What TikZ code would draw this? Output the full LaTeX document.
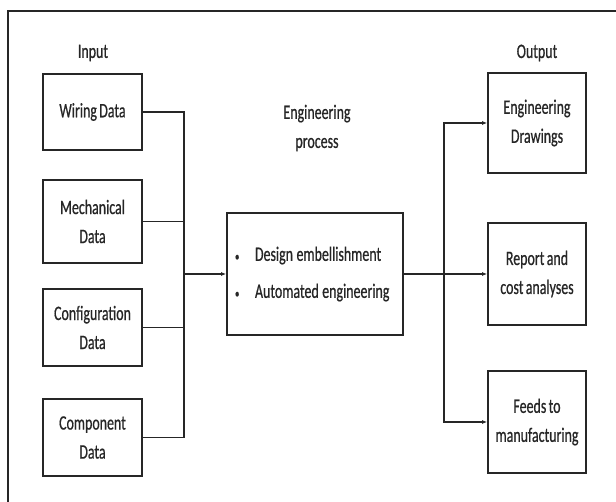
\documentclass[tikz,border=0pt]{standalone}
\usepackage{fontspec}
\setmainfont{Carlito}[FakeStretch=0.68, FakeBold=0.6, WordSpace=0.75]
\usepackage{tikz}
\usetikzlibrary{arrows.meta}
\tikzset{
	box/.style={draw=black!85, line width=1.7pt, fill=white, align=center, inner sep=2pt},
	conn/.style={draw=black!85, line width=1.5pt},
	arr/.style={conn, -{Latex[length=5pt,width=4pt]}}
}
\newcommand{\procitem}{\makebox[20pt][l]{\fontsize{13}{13}\selectfont\textbullet}}

\begin{document}
\begin{tikzpicture}[x=1pt, y=-1pt, font=\fontsize{20.5}{29}\selectfont, text=black!85]
	\useasboundingbox (0,0) rectangle (616,502);
	\draw[black!85, line width=2.2pt] (8,502) -- (8,11) -- (616,11);
	% input side
	\node (input) at (93,53) {Input};
	\node[box, minimum width=99pt, minimum height=76pt] (wiring) at (92.5,112) {Wiring Data};
	\node[box, minimum width=99pt, minimum height=83pt] (mech) at (92.5,221.5) {Mechanical\\Data};
	\node[box, minimum width=99pt, minimum height=77pt] (config) at (92.5,327.5) {Configuration\\Data};
	\node[box, minimum width=99pt, minimum height=77pt] (comp) at (92.5,437.5) {Component\\Data};
	% process
	\node[align=center] (proclabel) at (317,128) {Engineering\\process};
	\node[box, minimum width=176pt, minimum height=122pt, text width=160pt, align=left, inner sep=8pt] (proc) at (315,274)
	{\spaceskip=3.5pt plus 1pt minus 1pt\procitem Design embellishment\\[8pt]\procitem Automated engineering};
	% output side
	\node (output) at (537,53) {Output};
	\node[box, minimum width=98pt, minimum height=100pt] (drawings) at (537,123) {Engineering\\Drawings};
	\node[box, minimum width=98pt, minimum height=102pt] (report) at (537,274) {Report and\\cost analyses};
	\node[box, minimum width=98pt, minimum height=102pt] (feeds) at (537,422) {Feeds to\\manufacturing};
	% connectors
	\coordinate (jin) at (184,274);
	\coordinate (jout) at (444,274);
	\draw[conn] (wiring.east) -| (jin) |- (comp.east);
	\draw[conn] (mech.east) -| (jin);
	\draw[conn] (config.east) -| (jin);
	\draw[arr] (jin) -- (proc.west);
	\draw[conn] (proc.east) -- (jout);
	\draw[arr] (jout) |- (drawings.west);
	\draw[arr] (jout) -- (report.west);
	\draw[arr] (jout) |- (feeds.west);
\end{tikzpicture}
\end{document}
